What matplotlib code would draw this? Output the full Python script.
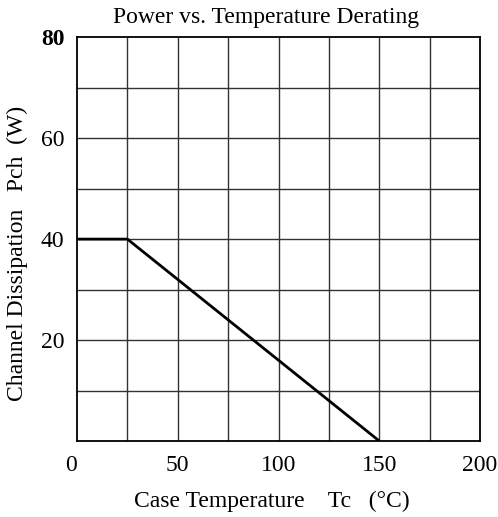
import matplotlib
matplotlib.use('Agg')
import matplotlib.pyplot as plt
import matplotlib.transforms as mtrans
import numpy as np

# derating curve
temp = [0, 25, 150]
power = [40, 40, 0]

xticks = [0, 50, 100, 150, 200]
yticks = [20, 40, 60, 80]

plt.rcParams['font.family'] = 'Liberation Serif'
plt.rcParams['font.size'] = 17

fig = plt.figure(figsize=(4.98, 5.17), dpi=100)
ax = fig.add_axes([0.1546, 0.147, 0.8094, 0.781])

ax.plot(temp, power, color='black', lw=2, solid_capstyle='butt', zorder=3)

ax.set_xlim(0, 200)
ax.set_ylim(0, 80)

# grid every 25 C and 10 W
for x in np.arange(25, 200, 25):
    ax.axvline(x, color='#333333', lw=1, zorder=1)
for y in np.arange(10, 80, 10):
    ax.axhline(y, color='#333333', lw=1, zorder=1)

ax.set_xticks(xticks)
ax.set_xticklabels([str(t) for t in xticks])
ax.set_yticks(yticks)
ax.set_yticklabels([str(t) for t in yticks])
ax.get_yticklabels()[-1].set_fontweight('bold')
ax.tick_params(length=0, pad=9)
ax.tick_params(axis='x', pad=10)

# nudge the 0 label left like the original
lbl0 = ax.get_xticklabels()[0]
lbl0.set_transform(lbl0.get_transform() + mtrans.ScaledTranslation(-6/100, 0, fig.dpi_scale_trans))

for s in ax.spines.values():
    s.set_linewidth(1.3)
    s.set_color('black')

ax.set_title('Power vs. Temperature Derating', fontsize=17, pad=10.5, x=0.47)
ax.set_xlabel('Case Temperature    Tc   (°C)')
ax.set_ylabel('Channel Dissipation   Pch  (W)')
ax.xaxis.set_label_coords(0.483, -0.123)
ax.yaxis.set_label_coords(-0.121, 0.465)

fig.savefig('out.png', dpi=100)
